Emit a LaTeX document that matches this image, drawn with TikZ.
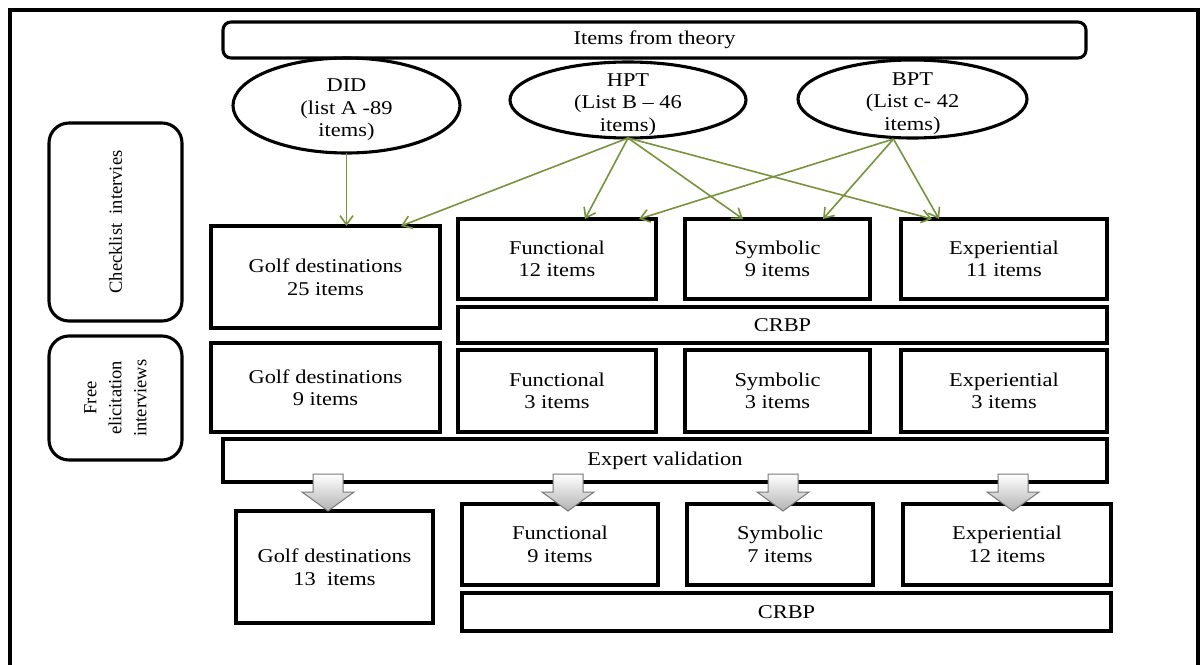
\documentclass[tikz,border=0pt]{standalone}
\usepackage{fontspec}
\setmainfont{Liberation Serif}[FakeStretch=1.15]
\newfontfamily\sideserif{Liberation Serif}
\usetikzlibrary{arrows.meta,shapes.geometric,calc}
\definecolor{linkgreen}{RGB}{119,147,60}
\definecolor{flowgray}{RGB}{120,120,120}

\newcommand{\lowfirst}{\rule{0pt}{22pt}}

\tikzset{
  lbl/.style={font=\fontsize{19.5}{22.5}\selectfont, align=center},
  box/.style={lbl, draw, line width=3.1pt, inner sep=0pt, outer sep=0pt},
  rbox/.style={box, rounded corners=8pt},
  sidebox/.style={draw, line width=3.1pt, rounded corners=20pt, inner sep=0pt, outer sep=0pt,
    minimum width=133pt, minimum height=#1},
  sidetext/.style={font=\sideserif\fontsize{18.5}{25}\selectfont, align=center, rotate=90},
  theory/.style={box, ellipse, inner xsep=0pt, inner ysep=-14pt},
  link/.style={draw=linkgreen, line width=1.6pt, -{Straight Barb[length=9pt,width=13pt,line width=1.6pt]}},
  flowarrow/.style={draw=flowgray, line width=1pt, top color=white, bottom color=black!30}
}

\newcommand{\flowdown}[1]{%
  \path[flowarrow] (#1) -- ++(-26,-19) -- ++(11,0) -- ++(0,-18) -- ++(30,0)
    -- ++(0,18) -- ++(11,0) -- cycle;}

\begin{document}
\begin{tikzpicture}[x=1pt, y=-1pt]
  \useasboundingbox (0,0) rectangle (1202,664);
  \clip (0,0) rectangle (1202,664);
  \fill[white] (0,0) rectangle (1202,664);

  % outer frame, open at the bottom of the page
  \draw[line width=4pt] (10,10) rectangle (1198,720);

  % sources from theory
  \node[rbox, minimum width=863pt, minimum height=36pt] (items) at (654.5,40) {Items from theory};
  \node[theory, minimum width=227pt, minimum height=95pt] (did) at (346.5,105.5) {\lowfirst DID\\(list A -89\\items)};
  \node[theory, minimum width=236pt, minimum height=76pt] (hpt) at (628,100) {\lowfirst HPT\\(List B – 46\\items)};
  \node[theory, minimum width=229pt, minimum height=78pt] (bpt) at (912.5,99) {\lowfirst BPT\\(List c- 42\\items)};

  % interview stages
  \node[sidebox=198pt] (chk) at (115.5,222) {};
  \node[sidetext] at (chk.center) {Checklist\ \ intervies};
  \node[sidebox=124pt] (fre) at (115.5,398) {};
  \node[sidetext] at (fre.center) {Free\\elicitation\\interviews};

  % checklist results
  \node[box, minimum width=229pt, minimum height=102pt] (g25) at (325.5,277) {Golf destinations\\25 items};
  \node[box, minimum width=198pt, minimum height=80pt] (f12) at (557,259) {Functional\\12 items};
  \node[box, minimum width=185pt, minimum height=80pt] (s9) at (777.5,259) {Symbolic\\9 items};
  \node[box, minimum width=206pt, minimum height=80pt] (e11) at (1004,259) {Experiential\\11 items};
  \node[box, minimum width=649pt, minimum height=36pt] (crbpA) at (782.5,325) {CRBP};

  % free elicitation results
  \node[box, minimum width=229pt, minimum height=89pt] (g9) at (325.5,387.5) {Golf destinations\\9 items};
  \node[box, minimum width=198pt, minimum height=82pt] (f3) at (557,391) {Functional\\3 items};
  \node[box, minimum width=185pt, minimum height=82pt] (s3) at (777.5,391) {Symbolic\\3 items};
  \node[box, minimum width=206pt, minimum height=82pt] (e3) at (1004,391) {Experiential\\3 items};

  \node[box, minimum width=884pt, minimum height=43pt] (ev) at (665,460.5) {Expert validation};

  % validated scale
  \node[box, minimum width=197pt, minimum height=112pt] (g13) at (334.5,567) {Golf destinations\\13\ \ items};
  \node[box, minimum width=196pt, minimum height=81pt] (f9) at (560,544.5) {Functional\\9 items};
  \node[box, minimum width=186pt, minimum height=81pt] (s7) at (780,544.5) {Symbolic\\7 items};
  \node[box, minimum width=208pt, minimum height=81pt] (e12) at (1007,544.5) {Experiential\\12 items};
  \node[box, minimum width=649pt, minimum height=38pt] (crbpB) at (786.5,612) {CRBP};

  % item lists feeding the dimensions
  \draw[link] (did.south) -- (did.south |- g25.north);
  \draw[link] (hpt.south) -- ([xshift=75.5pt]g25.north);
  \draw[link] (hpt.south) -- ([xshift=28pt]f12.north);
  \draw[link] (hpt.south) -- ([xshift=-34.5pt]s9.north);
  \draw[link] (hpt.south) -- ([xshift=-72pt]e11.north);
  \coordinate (bptfoot) at ([xshift=-19pt,yshift=-1pt]bpt.south);
  \draw[link] (bptfoot) -- ([xshift=82pt]f12.north);
  \draw[link] (bptfoot) -- ([xshift=45.5pt]s9.north);
  \draw[link] (bptfoot) -- ([xshift=-65pt]e11.north);

  % expert validation outcome arrows, all ending on one level
  \coordinate (tipG) at ([xshift=-6.5pt]g13.north);
  \coordinate (tipF) at ([xshift=8pt]f9.north |- g13.north);
  \coordinate (tipS) at ([xshift=3pt]s7.north |- g13.north);
  \coordinate (tipE) at ([xshift=6pt]e12.north |- g13.north);
  \flowdown{tipG}
  \flowdown{tipF}
  \flowdown{tipS}
  \flowdown{tipE}
\end{tikzpicture}
\end{document}
